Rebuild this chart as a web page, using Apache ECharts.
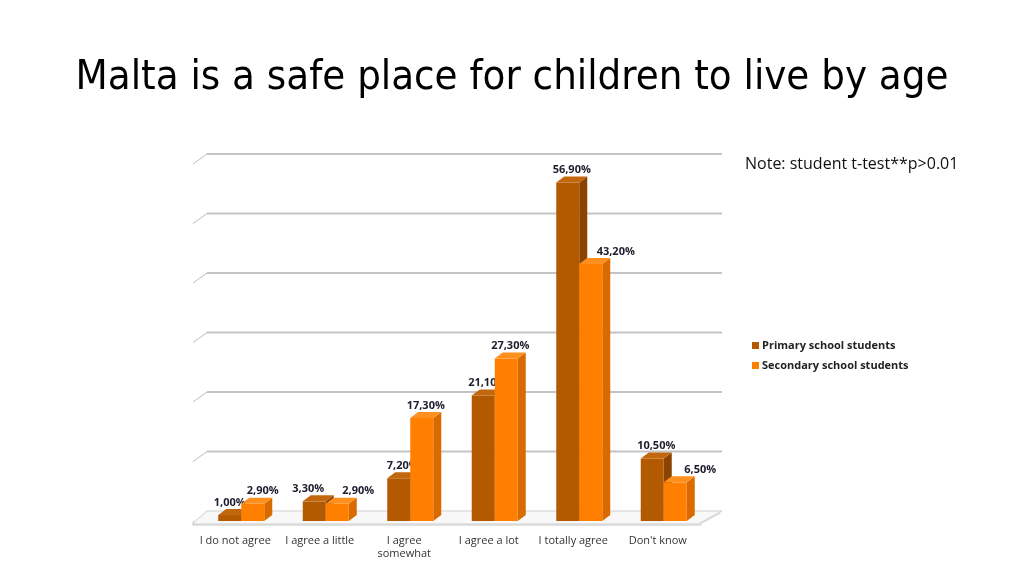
<!DOCTYPE html>
<html>
<head>
<meta charset="utf-8">
<script src="https://cdn.jsdelivr.net/npm/echarts@6/dist/echarts.min.js"></script>
<style>html,body{margin:0;padding:0;background:#fff;}#c{width:1024px;height:576px;}</style>
</head>
<body>
<div id="c"></div>
<script>
const categories = ['I do not agree', 'I agree a little', 'I agree\nsomewhat', 'I agree a lot', 'I totally agree', "Don't know"];
const primary = [1.0, 3.3, 7.2, 21.1, 56.9, 10.5];
const secondary = [2.9, 2.9, 17.3, 27.3, 43.2, 6.5];
const yTicks = [10, 20, 30, 40, 50, 60];
const seriesNames = ['Primary school students', 'Secondary school students'];

const faceColors = [
  { front: '#b35900', top: '#c2670c', side: '#8a4300' },
  { front: '#ff8000', top: '#ff8f1f', side: '#d86a00' }
];
const DX = 8, DY = -6, BAR_W = 23, OFFX = 6;
const WALL_DX = 14, WALL_DY = -10;

function fmt(v) { return v.toFixed(2).replace('.', ',') + '%'; }

// simple label-collision rule (like the spreadsheet's automatic label placement)
function labelShift(si, idx) {
  const p = primary[idx], s = secondary[idx];
  const close = Math.abs(p - s) < 3;
  if (si === 0) return close ? (p > s ? -10 : -4) : 0;
  if (p > s) return close ? 17 : 21;
  return close ? 6 : 0;
}

function barRenderer(si) {
  return function (params, api) {
    const cat = api.value(0), v = api.value(1);
    const b = api.coord([cat, 0]);
    const t = api.coord([cat, v]);
    const x0 = b[0] + OFFX + (si === 0 ? -BAR_W : 0);
    const yb = b[1], yt = t[1];
    const c = faceColors[si];
    return {
      type: 'group',
      children: [
        { type: 'polygon', shape: { points: [[x0 + BAR_W, yt], [x0 + BAR_W + DX, yt + DY], [x0 + BAR_W + DX, yb + DY], [x0 + BAR_W, yb]] }, style: { fill: c.side } },
        { type: 'rect', shape: { x: x0, y: yt, width: BAR_W, height: yb - yt }, style: { fill: c.front } },
        { type: 'polygon', shape: { points: [[x0, yt], [x0 + BAR_W, yt], [x0 + BAR_W + DX, yt + DY], [x0 + DX, yt + DY]] }, style: { fill: c.top } },
        { type: 'text', z2: 100, style: { text: fmt(v), x: x0 + BAR_W / 2 + DX / 2 + labelShift(si, params.dataIndex), y: yt + DY - 1, align: 'center', verticalAlign: 'bottom', fill: '#1c1c2c', font: 'bold 11px "Open Sans"' } }
      ]
    };
  };
}

const chart = echarts.init(document.getElementById('c'), null, { renderer: 'canvas' });
chart.setOption({
  backgroundColor: '#ffffff',
  animation: false,
  title: {
    text: 'Malta is a safe place for children to live by age',
    left: 'center', top: 52,
    textStyle: { fontFamily: 'Liberation Sans Narrow, DejaVu Sans Condensed, sans-serif', fontSize: 41.5, fontWeight: 'normal', color: '#000' }
  },
  graphic: [
    { type: 'text', left: 745, top: 156, style: { text: 'Note: student t-test**p>0.01', font: '16px "Open Sans"', fill: '#111' } }
  ],
  legend: {
    orient: 'vertical', left: 747, top: 335, itemGap: 9,
    itemWidth: 7, itemHeight: 7, icon: 'rect',
    data: seriesNames,
    textStyle: { fontFamily: 'Open Sans', fontWeight: 'bold', fontSize: 11, color: '#222', padding: [0, 0, 0, -2] }
  },
  grid: { left: 193, right: 324, top: 164, bottom: 55 },
  xAxis: {
    type: 'category', data: categories, boundaryGap: true,
    axisLine: { show: false },
    axisTick: { show: true, alignWithLabel: false, length: 5, lineStyle: { color: '#c8c8c8' } },
    axisLabel: { margin: 13, fontFamily: 'Open Sans', fontSize: 11, color: '#333', lineHeight: 13, interval: 0 }
  },
  yAxis: { type: 'value', min: 0, max: 60, interval: 10, show: false, splitLine: { show: false } },
  series: [
    {
      type: 'custom', name: 'floor', silent: true, clip: false, z: 1,
      data: [[0, 0]],
      renderItem: function (params, api) {
        const cs = params.coordSys;
        const y0 = api.coord([0, 0])[1];
        const L = cs.x, R = cs.x + cs.width;
        const yf = y0 + 3, ybk = y0 + WALL_DY;
        return {
          type: 'group',
          children: [
            { type: 'polygon', shape: { points: [[L - 1, yf + 2], [R - 2, yf + 2], [R + 22, ybk + 2], [L + WALL_DX, ybk + 2]] }, style: { fill: '#e2e2e2' } },
            { type: 'polygon', shape: { points: [[L - 1, yf], [R - 2, yf], [R + 22, ybk], [L + WALL_DX, ybk]] }, style: { fill: '#f8f8f8', stroke: '#cfcfcf', lineWidth: 1 } }
          ]
        };
      }
    },
    {
      type: 'custom', name: 'walls', silent: true, clip: false, z: 1,
      data: yTicks.map(function (v) { return [0, v]; }),
      renderItem: function (params, api) {
        const cs = params.coordSys;
        const y = api.coord([0, api.value(1)])[1];
        const L = cs.x, R = cs.x + cs.width;
        return {
          type: 'group',
          children: [
            { type: 'line', shape: { x1: L, y1: y, x2: L + WALL_DX, y2: y + WALL_DY }, style: { stroke: '#bdbdbd', lineWidth: 1 } },
            { type: 'line', shape: { x1: L + WALL_DX, y1: y + WALL_DY, x2: R + 22, y2: y + WALL_DY }, style: { stroke: '#c4c4c4', lineWidth: 2 } }
          ]
        };
      }
    },
    {
      type: 'custom', name: seriesNames[0], clip: false, z: 3,
      itemStyle: { color: faceColors[0].front },
      data: primary.map(function (v, i) { return [i, v]; }),
      renderItem: barRenderer(0)
    },
    {
      type: 'custom', name: seriesNames[1], clip: false, z: 4,
      itemStyle: { color: faceColors[1].front },
      data: secondary.map(function (v, i) { return [i, v]; }),
      renderItem: barRenderer(1)
    }
  ]
});
</script>
</body>
</html>
